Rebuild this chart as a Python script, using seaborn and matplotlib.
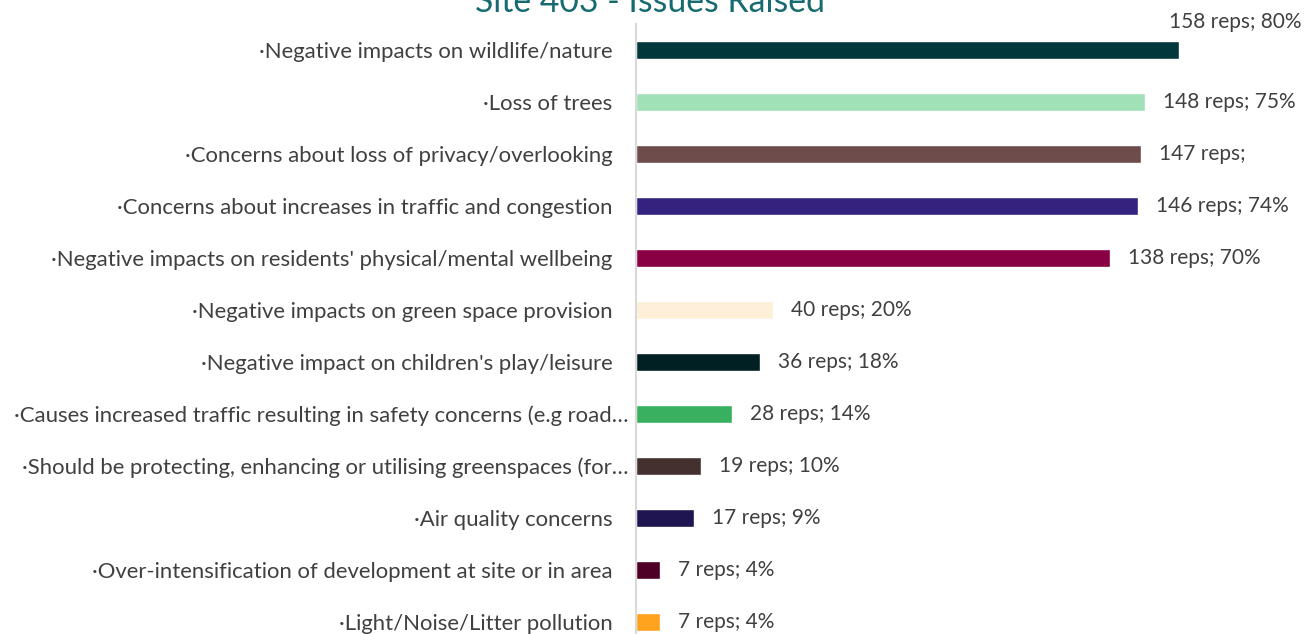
import matplotlib
matplotlib.use("Agg")
import matplotlib.pyplot as plt
import matplotlib.transforms as mtransforms
import seaborn as sns
import pandas as pd

sns.set_theme(style="white")
plt.rcParams["font.family"] = ["Lato", "DejaVu Sans"]

# values
issues = [
    "·Negative impacts on wildlife/nature",
    "·Loss of trees",
    "·Concerns about loss of privacy/overlooking",
    "·Concerns about increases in traffic and congestion",
    "·Negative impacts on residents' physical/mental wellbeing",
    "·Negative impacts on green space provision",
    "·Negative impact on children's play/leisure",
    "·Causes increased traffic resulting in safety concerns (e.g road…",
    "·Should be protecting, enhancing or utilising greenspaces (for…",
    "·Air quality concerns",
    "·Over-intensification of development at site or in area",
    "·Light/Noise/Litter pollution",
]
reps = [158, 148, 147, 146, 138, 40, 36, 28, 19, 17, 7, 7]
labels = [
    "158 reps; 80%", "148 reps; 75%", "147 reps;", "146 reps; 74%",
    "138 reps; 70%", "40 reps; 20%", "36 reps; 18%", "28 reps; 14%",
    "19 reps; 10%", "17 reps; 9%", "7 reps; 4%", "7 reps; 4%",
]
colors = [
    "#02383C", "#A0E1B8", "#6E4C4B", "#35227F", "#890044", "#FDEFD8",
    "#012024", "#38B060", "#44302F", "#1F1550", "#4E0027", "#FFA21E",
]

df = pd.DataFrame({"issue": issues, "reps": reps})

fig = plt.figure(figsize=(13.06, 6.34), dpi=100)
ax = fig.add_axes([636 / 1306, -14 / 634, 670 / 1306, 624 / 634])

sns.barplot(data=df, x="reps", y="issue", hue="issue", palette=colors,
            legend=False, width=0.36, ax=ax, saturation=1)

ax.set_xlim(0, 195)
ax.set_xlabel("")
ax.set_ylabel("")
ax.set_xticks([])
for side in ["top", "right", "bottom"]:
    ax.spines[side].set_visible(False)
ax.spines["left"].set_color("#D9D9D9")
ax.spines["left"].set_linewidth(1.5)
ax.tick_params(axis="y", length=0, pad=17, labelsize=15.9, labelcolor="#404040")

# truncated labels sit a little closer to the axis in the source
shift = mtransforms.ScaledTranslation(16 / 100, 0, fig.dpi_scale_trans)
for t in ax.get_yticklabels():
    if t.get_text().endswith("…"):
        t.set_transform(t.get_transform() + shift)

for i, (v, lab) in enumerate(zip(reps, labels)):
    if i == 0:
        # top label sits above the bar end, as in the source
        ax.annotate(lab, (v, i), xytext=(-7, 20), textcoords="offset points",
                    ha="left", va="center", fontsize=15, color="#404040",
                    annotation_clip=False)
    else:
        ax.annotate(lab, (v, i), xytext=(13, 0), textcoords="offset points",
                    ha="left", va="center", fontsize=15, color="#404040")

fig.text(650 / 1306, 1 - 12 / 634, "Site 403 - Issues Raised", ha="center",
         va="baseline", fontsize=24.3, color="#176B70")

fig.savefig("out.png", dpi=100)
plt.close(fig)
